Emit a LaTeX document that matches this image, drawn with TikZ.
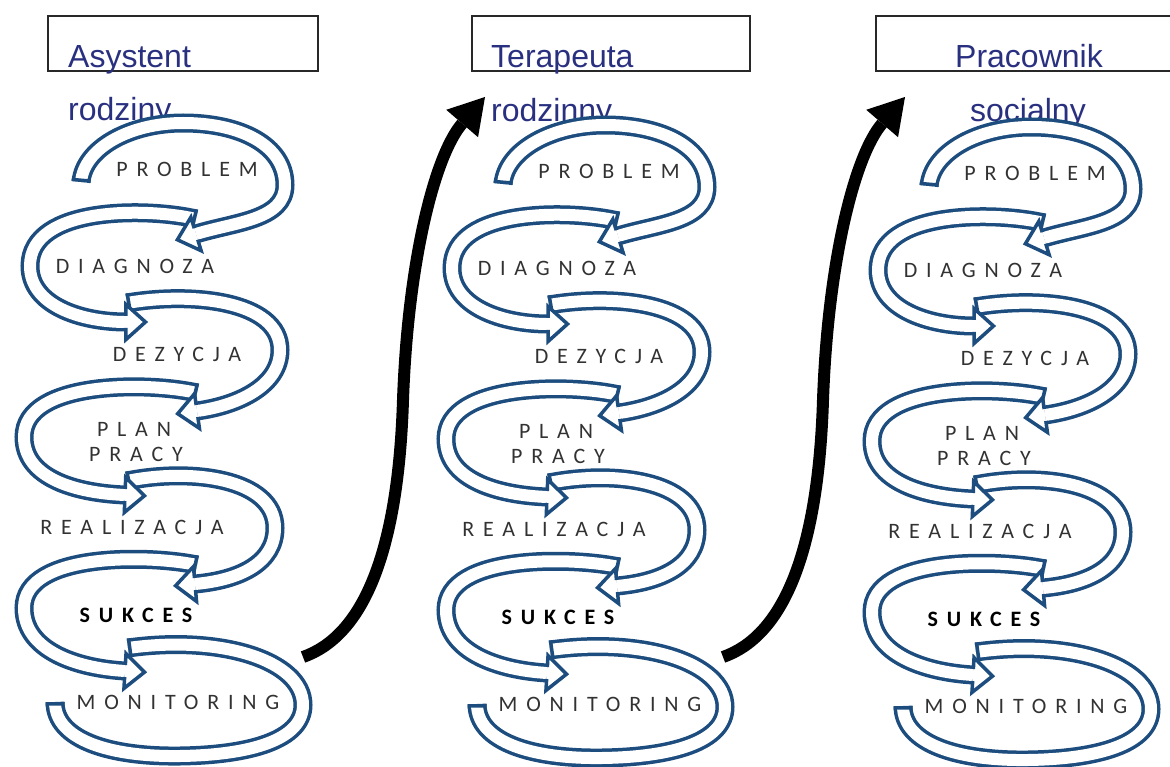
\documentclass[tikz,border=0pt]{standalone}
\usepackage{fontspec}
\usetikzlibrary{decorations.markings,arrows.meta}
\newfontfamily\labelfont{Carlito}[LetterSpace=40]
\newfontfamily\titlefont{Liberation Sans}
\definecolor{bandblue}{RGB}{28,77,126}
\definecolor{titleblue}{RGB}{42,48,128}
\definecolor{labelgray}{RGB}{50,50,50}
\definecolor{framegray}{RGB}{40,40,40}

\tikzset{
  % hollow band ending in an open arrow head
  loopband/.style={white, line width=12pt,
    preaction={draw=bandblue, line width=19pt},
    postaction={decorate, decoration={markings,
      mark=at position 0 with {\draw[bandblue, line width=3.5pt] (1.75pt,-9.5pt) -- (1.75pt,9.5pt);},
      mark=at position 0.99999 with {
        \fill[white] (0pt,-6pt) -- (0pt,-17.5pt) -- (19.5pt,0pt) -- (0pt,17.5pt) -- (0pt,6pt) -- cycle;
        \draw[bandblue, line width=3.5pt, line join=miter] (0pt,-6pt) -- (0pt,-17.5pt) -- (19.5pt,0pt) -- (0pt,17.5pt) -- (0pt,6pt);}}}},
  % hollow band closed at both ends
  loopclosed/.style={white, line width=12pt,
    preaction={draw=bandblue, line width=19pt},
    postaction={decorate, decoration={markings,
      mark=at position 0 with {\draw[bandblue, line width=3.5pt] (1.75pt,-9.5pt) -- (1.75pt,9.5pt);},
      mark=at position 0.99999 with {\draw[bandblue, line width=3.5pt] (-1.75pt,-9.5pt) -- (-1.75pt,9.5pt);}}}},
  lbl/.style={font=\labelfont\fontsize{22}{26}\selectfont, text=labelgray, inner sep=0pt},
  boldlbl/.style={font=\labelfont\bfseries\fontsize{22}{26}\selectfont, text=black, inner sep=0pt},
  ttl/.style={font=\titlefont\fontsize{32}{38}\selectfont, text=titleblue, inner sep=0pt},
  frame/.style={draw=framegray, line width=1.8pt},
  fatarrow/.style={draw=black, line width=12pt, -{Triangle[length=35pt,width=42pt,line width=0pt]}},
}

% one cycle of stages; later bands first so each head lies over the next tail
\newcommand{\drawcycle}[1]{%
  \draw[loopclosed] (128,648) .. controls (220,635) and (303,660) .. (303,705)
        .. controls (303,740) and (250,755) .. (180,756)
        .. controls (110,757) and (55,740) .. (55,702);
  \draw[loopband] (197,565) .. controls (150,555) and (24,552) .. (24,608)
        .. controls (24,650) and (75,668) .. (125,671);
  \draw[loopband] (127,481) .. controls (190,468) and (275,478) .. (275,528)
        .. controls (275,563) and (240,580) .. (195,584);
  \draw[loopband] (197,393) .. controls (150,382) and (24,380) .. (24,437)
        .. controls (24,478) and (75,493) .. (125,495);
  \draw[loopband] (127,303) .. controls (190,292) and (280,300) .. (280,350)
        .. controls (280,385) and (240,405) .. (197,411);
  \draw[loopband] (196,219) .. controls (150,208) and (30,205) .. (30,266)
        .. controls (30,305) and (80,322) .. (126,322);
  \draw[loopband] (81,182) .. controls (84,148) and (130,123) .. (183,123)
        .. controls (240,123) and (285,145) .. (285,185)
        .. controls (285,220) and (235,222) .. (196,234);
  \node[lbl] (#1-problem) at (187,169) {PROBLEM};
  \node[lbl] (#1-diagnoza) at (135,266) {DIAGNOZA};
  \node[lbl] (#1-dezycja) at (177,354) {DEZYCJA};
  \node[lbl] (#1-plan) at (134,429) {PLAN};
  \node[lbl] (#1-pracy) at (136,454) {PRACY};
  \node[lbl] (#1-realizacja) at (132,527) {REALIZACJA};
  \node[boldlbl] (#1-sukces) at (136,615) {SUKCES};
  \node[lbl] (#1-monitoring) at (178,702) {MONITORING};
}

\begin{document}
\begin{tikzpicture}[x=1pt, y=-1pt]
  \useasboundingbox (0,0) rectangle (1170,767);

  % title frames
  \draw[frame] (48,16) rectangle (318,71);
  \draw[frame] (472,16) rectangle (750,71);
  \draw[frame] (1172,16) -- (876,16) -- (876,71) -- (1172,71);

  % titles
  \node[ttl, anchor=base west] (t1a) at (68,68) {Asystent};
  \node[ttl, anchor=base west] (t1b) at (68,121) {rodziny};
  \node[ttl, anchor=base west] (t2a) at (491,68) {Terapeuta};
  \node[ttl, anchor=base west] (t2b) at (491,122) {rodzinny};
  \node[ttl, anchor=base] (t3a) at (1029,68) {Pracownik};
  \node[ttl, anchor=base] (t3b) at (1028,122) {socialny};

  % three cycles
  \drawcycle{a}
  \begin{scope}[shift={(422,2)}]
    \drawcycle{b}
  \end{scope}
  \begin{scope}[shift={(848,4)}]
    \drawcycle{c}
  \end{scope}

  % transitions between cycles
  \coordinate (ba1s) at (303,657);
  \coordinate (ba1e) at (485,97);
  \coordinate (ba2s) at (723,657);
  \coordinate (ba2e) at (905,97);
  \draw[fatarrow] (ba1s) .. controls (360,637) and (398,560) .. (403,400)
        .. controls (408,260) and (435,155) .. (ba1e);
  \draw[fatarrow] (ba2s) .. controls (780,637) and (818,560) .. (823,400)
        .. controls (828,260) and (855,155) .. (ba2e);
\end{tikzpicture}
\end{document}
